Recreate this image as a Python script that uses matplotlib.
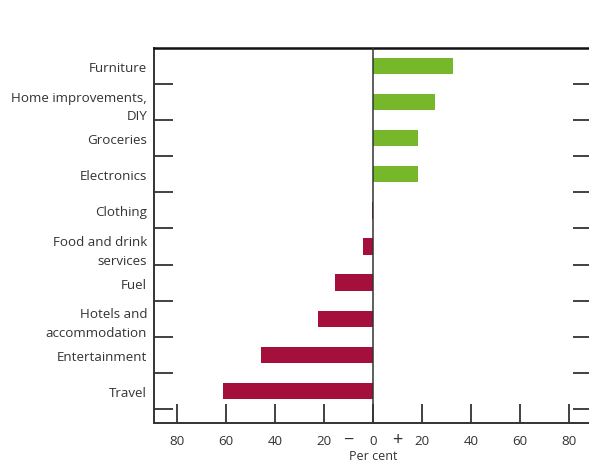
import matplotlib
matplotlib.use("Agg")
import matplotlib.pyplot as plt
import matplotlib.transforms as mtransforms
import numpy as np

categories = ["Furniture", "Home improvements,\nDIY", "Groceries", "Electronics",
              "Clothing", "Food and drink\nservices", "Fuel", "Hotels and\naccommodation",
              "Entertainment", "Travel"]
values = [32.5, 25.4, 18.5, 18.4, -0.4, -4.1, -15.4, -22.4, -45.8, -61.5]
xticks = [-80, -60, -40, -20, 0, 20, 40, 60, 80]
xticklabels = ["80", "60", "40", "20", "0", "20", "40", "60", "80"]

GREEN = "#76b82a"
RED = "#a50f3c"
SPINE = "#333333"
TEXT = "#333333"

plt.rcParams["font.family"] = ["Open Sans", "DejaVu Sans"]

fig = plt.figure(figsize=(5.89, 4.64), dpi=100)
W, H = 589, 464
left, right, top, bottom = 154, 592, 49, 424
ax = fig.add_axes([left / W, 1 - bottom / H, (right - left) / W, (bottom - top) / H])

y = np.arange(len(categories))
colors = [GREEN if v >= 0 else RED for v in values]
ax.barh(y, values, height=0.45, color=colors, zorder=2)

ax.set_xlim(-89.5, 89.5)
ax.set_ylim(9.89, -0.5)
ax.axvline(0, color=SPINE, lw=1.1, zorder=3)

# category labels centred on the bars, ticks on the boundaries between them
ax.set_yticks(y, categories, fontsize=9.6, color=TEXT, linespacing=1.55)
ax.tick_params(axis="y", which="major", length=0, pad=5)
ax.set_yticks(np.arange(len(categories)) + 0.5, minor=True)
ax.tick_params(axis="y", which="minor", direction="in", length=14, width=1.3,
               color=SPINE, left=True, right=True)

ax.set_xticks(xticks, xticklabels, fontsize=9.6, color=TEXT)
ax.tick_params(axis="x", direction="in", length=14, width=1.3, color=SPINE, pad=8)

for s in ["left", "bottom", "right"]:
    ax.spines[s].set_color(SPINE)
    ax.spines[s].set_linewidth(1.4)
ax.spines["top"].set_color("#111111")
ax.spines["top"].set_linewidth(1.8)

# sign markers between the two halves of the axis, and the unit below
base = ax.get_xaxis_transform()
sign_tr = mtransforms.offset_copy(base, fig=fig, x=0, y=-16, units="dots")
unit_tr = mtransforms.offset_copy(base, fig=fig, x=0, y=-33, units="dots")
ax.text(-10, 0, "\u2212", transform=sign_tr, ha="center", va="center",
        fontsize=13, color=TEXT)
ax.text(10, 0, "+", transform=sign_tr, ha="center", va="center",
        fontsize=13, color=TEXT)
ax.text(0, 0, "Per cent", transform=unit_tr, ha="center", va="center",
        fontsize=9, color=TEXT)

fig.savefig("out.png", dpi=100)
